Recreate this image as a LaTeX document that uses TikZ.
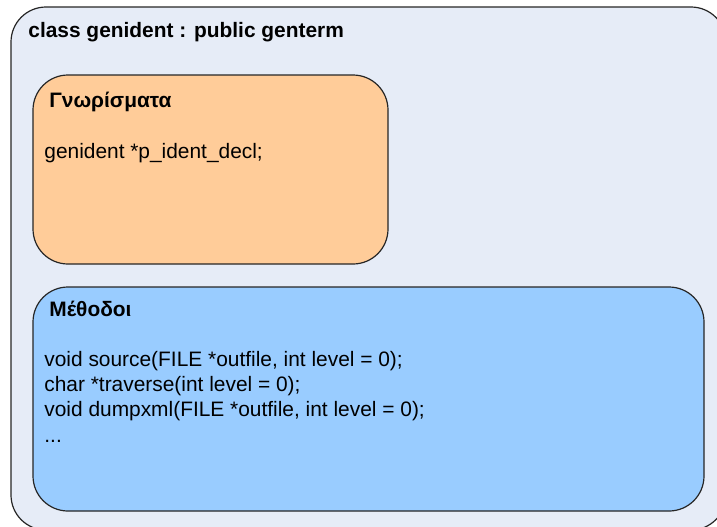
\documentclass[tikz,border=0pt]{standalone}
\usepackage{fontspec}
\setmainfont{Liberation Sans}
\usetikzlibrary{positioning}

\definecolor{classbg}{RGB}{230,236,247}
\definecolor{attrfill}{RGB}{255,204,153}
\definecolor{methfill}{RGB}{153,204,255}

\begin{document}
\begin{tikzpicture}[x=0.5pt,y=-0.5pt,
  box/.style={draw=black!85,line width=0.6pt,rounded corners=17.5pt,inner sep=0pt},
  heading/.style={anchor=base west,inner sep=0pt,font=\bfseries\fontsize{10.45}{12.5}\selectfont},
  body/.style={anchor=base west,inner sep=0pt,align=left,font=\fontsize{10.45}{12.6}\selectfont}]
\useasboundingbox (0,0) rectangle (717,526);
% outer class frame
\node[box,fill=classbg,minimum width=357.5pt,minimum height=261.5pt] (cls) at (368.5,268.5) {};
\node[heading] (clsname) at (28,37) {class genident : public genterm};
% attributes
\node[box,fill=attrfill,minimum width=177.5pt,minimum height=94.5pt] (attrs) at (210.5,169.5) {};
\node[heading] (attrshead) at (49,107) {Γνωρίσματα};
\node[body] (attrsbody) at (44,158) {genident *p\_ident\_decl;};
% methods (base anchor sits on the last line)
\node[box,fill=methfill,minimum width=335.5pt,minimum height=112pt] (meths) at (368.5,399) {};
\node[heading] (methshead) at (49,316) {Μέθοδοι};
\node[body] (methsbody) at (44,442) {void source(FILE *outfile, int level = 0);\\
char *traverse(int level = 0);\\
void dumpxml(FILE *outfile, int level = 0);\\
...};
\end{tikzpicture}
\end{document}
